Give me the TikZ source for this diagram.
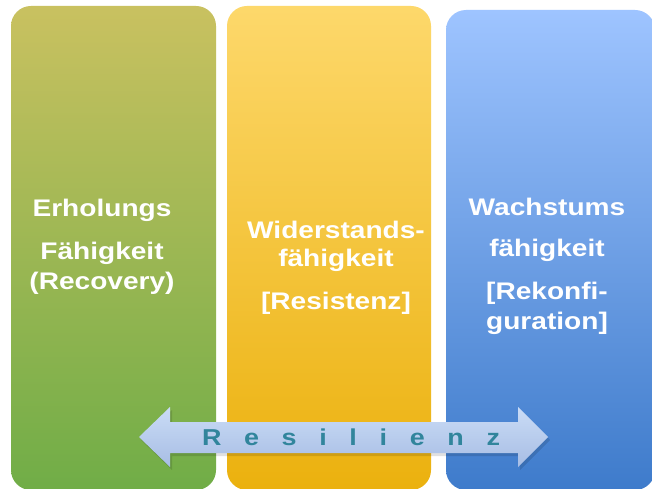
\documentclass[tikz,border=0pt]{standalone}
\usepackage{fontspec}
\setmainfont{Liberation Sans}
\newfontfamily\widefont[FakeStretch=1.17]{Liberation Sans}
\begin{document}
\begin{tikzpicture}[x=1pt,y=-1pt,
  col/.style={rounded corners=20pt, draw=none},
  lbl/.style={text=white, font=\widefont\bfseries\fontsize{24}{26}\selectfont, inner sep=0pt, anchor=center},
  resil/.style={text=rtext, font=\widefont\bfseries\fontsize{23}{25}\selectfont, inner sep=0pt}]
\definecolor{gtop}{HTML}{C9C160}
\definecolor{gbot}{HTML}{70AD47}
\definecolor{ytop}{HTML}{FDD86B}
\definecolor{ybot}{HTML}{EBB10E}
\definecolor{btop}{HTML}{9EC4FF}
\definecolor{bbot}{HTML}{3E7BCB}
\definecolor{atop}{HTML}{CADCF6}
\definecolor{abot}{HTML}{A7BDE4}
\definecolor{rtext}{HTML}{31859C}
\useasboundingbox (0,0) rectangle (652,489);
\fill[white] (0,0) rectangle (652,489);
% columns
\shade[col, top color=gtop, bottom color=gbot] (11,6) rectangle (216,490);
\shade[col, top color=ytop, bottom color=ybot] (227,6) rectangle (431,490);
\shade[col, top color=btop, bottom color=bbot] (446,10) rectangle (655,490);
\node[draw=none, inner sep=0pt, minimum width=205pt, minimum height=484pt] (c1) at (113.5,248) {};
\node[draw=none, inner sep=0pt, minimum width=204pt, minimum height=484pt] (c2) at (329,248) {};
\node[draw=none, inner sep=0pt, minimum width=209pt, minimum height=480pt] (c3) at (550.5,250) {};
% labels
\node[lbl] (t1a) at (102,210) {Erholungs};
\node[lbl] (t1b) at (102,253) {Fähigkeit};
\node[lbl] (t1c) at (102,283) {(Recovery)};
\node[lbl] (t2a) at (336,230) {Widerstands-};
\node[lbl] (t2b) at (336,260) {fähigkeit};
\node[lbl] (t2c) at (336,303) {[Resistenz]};
\node[lbl] (t3a) at (547,207) {Wachstums};
\node[lbl] (t3b) at (547,250) {fähigkeit};
\node[lbl] (t3c) at (547,293) {[Rekonfi-};
\node[lbl] (t3d) at (547,323) {guration]};
% double arrow
\fill[black, opacity=0.12] (141,440) -- (172,410) -- (172,425) -- (520,425) -- (520,410) -- (550,440) -- (520,470) -- (520,456) -- (172,456) -- (172,470) -- cycle;
\shade[top color=atop, bottom color=abot] (139,437) -- (170,407) -- (170,422) -- (518,422) -- (518,407) -- (548,437) -- (518,467) -- (518,453) -- (170,453) -- (170,467) -- cycle;
\node[resil] (res) at (351,437) {\makebox[298pt][s]{R\hfill e\hfill s\hfill i\hfill l\hfill i\hfill e\hfill n\hfill z}};
\end{tikzpicture}
\end{document}
